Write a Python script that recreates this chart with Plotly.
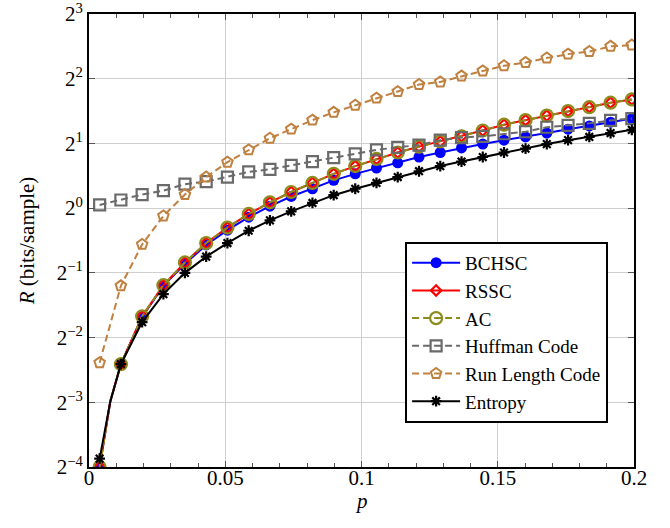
import math
import plotly.graph_objects as go

# ---- data ----
p_marks = [0.0039, 0.0117, 0.0195, 0.0273, 0.0352, 0.0430, 0.0508, 0.0586, 0.0664,
           0.0742, 0.0820, 0.0898, 0.0977, 0.1055, 0.1133, 0.1211, 0.1289, 0.1367,
           0.1445, 0.1523, 0.1602, 0.1680, 0.1758, 0.1836, 0.1914, 0.1992]
p_extra = 0.0078  # extra line point (no marker) for the low curves

bchsc = [0.0625, 0.188, 0.312, 0.435, 0.551, 0.674, 0.790, 0.908, 1.021, 1.133,
         1.231, 1.347, 1.444, 1.537, 1.625, 1.729, 1.815, 1.905, 1.986, 2.071,
         2.144, 2.235, 2.330, 2.412, 2.510, 2.610]
bchsc_extra = 0.126

rssc = [0.0625, 0.188, 0.314, 0.438, 0.559, 0.688, 0.812, 0.940, 1.064, 1.189,
        1.310, 1.444, 1.569, 1.694, 1.815, 1.932, 2.042, 2.159, 2.297, 2.445,
        2.567, 2.695, 2.828, 2.949, 3.095, 3.204]
rssc_extra = 0.126

ac = [0.0625, 0.188, 0.314, 0.438, 0.559, 0.688, 0.812, 0.940, 1.064, 1.189,
      1.310, 1.444, 1.569, 1.694, 1.815, 1.932, 2.042, 2.159, 2.297, 2.445,
      2.567, 2.695, 2.828, 2.949, 3.095, 3.204]
ac_extra = 0.126

huffman = [1.035, 1.091, 1.157, 1.206, 1.292, 1.329, 1.395, 1.474, 1.516, 1.580,
           1.647, 1.717, 1.790, 1.866, 1.919, 1.966, 2.071, 2.129, 2.159, 2.219,
           2.266, 2.378, 2.428, 2.479, 2.560, 2.610]

run_length = [0.191, 0.435, 0.678, 0.920, 1.157, 1.395, 1.636, 1.866, 2.114, 2.330,
              2.567, 2.790, 3.011, 3.249, 3.482, 3.758, 3.864, 4.113, 4.347, 4.595,
              4.757, 4.993, 5.205, 5.352, 5.657, 5.736]

entropy = [0.0684, 0.188, 0.295, 0.398, 0.500, 0.595, 0.688, 0.785, 0.877, 0.966,
           1.057, 1.149, 1.231, 1.310, 1.395, 1.485, 1.569, 1.647, 1.729, 1.815,
           1.892, 1.986, 2.071, 2.144, 2.235, 2.313]
entropy_extra = 0.1259

y_tick_exp = [-4, -3, -2, -1, 0, 1, 2, 3]
x_ticks = [0, 0.05, 0.1, 0.15, 0.2]
x_tick_text = ["0", "0.05", "0.1", "0.15", "0.2"]

# ---- styles ----
BLUE = "#0000ff"
RED = "#ff0000"
OLIVE = "#8c8c1c"
GRAY = "#6a6a6a"
BROWN = "#c0803f"
BLACK = "#000000"
FONT = "Liberation Serif"
DASH = "7px,4px"

fig = go.Figure()


def with_extra(xs, ys, xe, ye):
    return [xs[0], xe] + xs[1:], [ys[0], ye] + ys[1:]


series = [
    # name, values, extra, color, dash, symbol, size, marker line width, fill
    ("BCHSC", bchsc, bchsc_extra, BLUE, "solid", "circle", 11, 0, BLUE),
    ("RSSC", rssc, rssc_extra, RED, "solid", "diamond-open", 8, 2.2, RED),
    ("AC", ac, ac_extra, OLIVE, DASH, "circle-open", 12, 2.2, OLIVE),
    ("Huffman Code", huffman, None, GRAY, DASH, "square-open", 11, 2.2, GRAY),
    ("Run Length Code", run_length, None, BROWN, DASH, "pentagon-open", 11, 2.0, BROWN),
    ("Entropy", entropy, entropy_extra, BLACK, "solid", "asterisk-open", 9, 2.2, BLACK),
]

for i, (name, vals, extra, col, dash, sym, size, mlw, fill) in enumerate(series):
    if extra is not None:
        lx, ly = with_extra(p_marks, vals, p_extra, extra)
    else:
        lx, ly = p_marks, vals
    marker = dict(symbol=sym, size=size, color=fill, line=dict(color=col, width=mlw))
    fig.add_trace(go.Scatter(x=lx, y=ly, mode="lines", line=dict(color=col, width=2, dash=dash),
                             showlegend=False, hoverinfo="skip", legendgroup=f"g{i}"))
    fig.add_trace(go.Scatter(x=p_marks, y=vals, mode="markers", marker=marker,
                             showlegend=False, name=name, legendgroup=f"g{i}"))
    fig.add_trace(go.Scatter(x=[None], y=[None], mode="lines+markers", name=name,
                             line=dict(color=col, width=2, dash=dash), marker=marker,
                             legendgroup=f"g{i}"))

fig.update_layout(
    width=670, height=528,
    margin=dict(l=89, r=36, t=14, b=61),
    paper_bgcolor="white", plot_bgcolor="white",
    font=dict(family=FONT, size=21, color="black"),
    showlegend=True,
    legend=dict(x=0.58, y=0.497, xanchor="left", yanchor="top",
                bgcolor="white", bordercolor="black", borderwidth=2,
                font=dict(family=FONT, size=19, color="black"),
                tracegroupgap=0, itemwidth=48, traceorder="grouped"),
    annotations=[dict(text="<i>p</i>", xref="paper", yref="paper", x=0.5, y=-0.075,
                      xanchor="center", yanchor="middle", showarrow=False,
                      font=dict(family=FONT, size=21, color="black"))],
)

fig.update_xaxes(
    range=[0, 0.2], tickvals=x_ticks, ticktext=x_tick_text,
    showgrid=True, gridcolor="#cfcfcf", gridwidth=1,
    showline=True, linecolor="black", linewidth=2, mirror="ticks",
    ticks="inside", ticklen=6, tickcolor="#555555", tickwidth=1,
    minor=dict(dtick=0.01, tick0=0, ticks="inside", ticklen=4, tickcolor="#555555", tickwidth=1, showgrid=False),
    zeroline=False, automargin=False,
    ticklabelstandoff=-9, ticklabeloverflow="allow",
    tickfont=dict(family=FONT, size=21),
)

fig.update_yaxes(
    type="log",
    range=[math.log10(2.0 ** -4), math.log10(2.0 ** 3)],
    tickvals=[2.0 ** e for e in y_tick_exp],
    ticktext=[f"2<sup>{str(e).replace('-', '−')}</sup>" for e in y_tick_exp],
    showgrid=True, gridcolor="#cfcfcf", gridwidth=1,
    showline=True, linecolor="black", linewidth=2, mirror="ticks",
    ticks="inside", ticklen=6, tickcolor="#555555", tickwidth=1,
    zeroline=False, automargin=False, ticklabeloverflow="allow",
    title=dict(text="<i>R</i> (bits/sample)", font=dict(family=FONT, size=21), standoff=16),
    tickfont=dict(family=FONT, size=21),
)

fig.write_html("out.html")
